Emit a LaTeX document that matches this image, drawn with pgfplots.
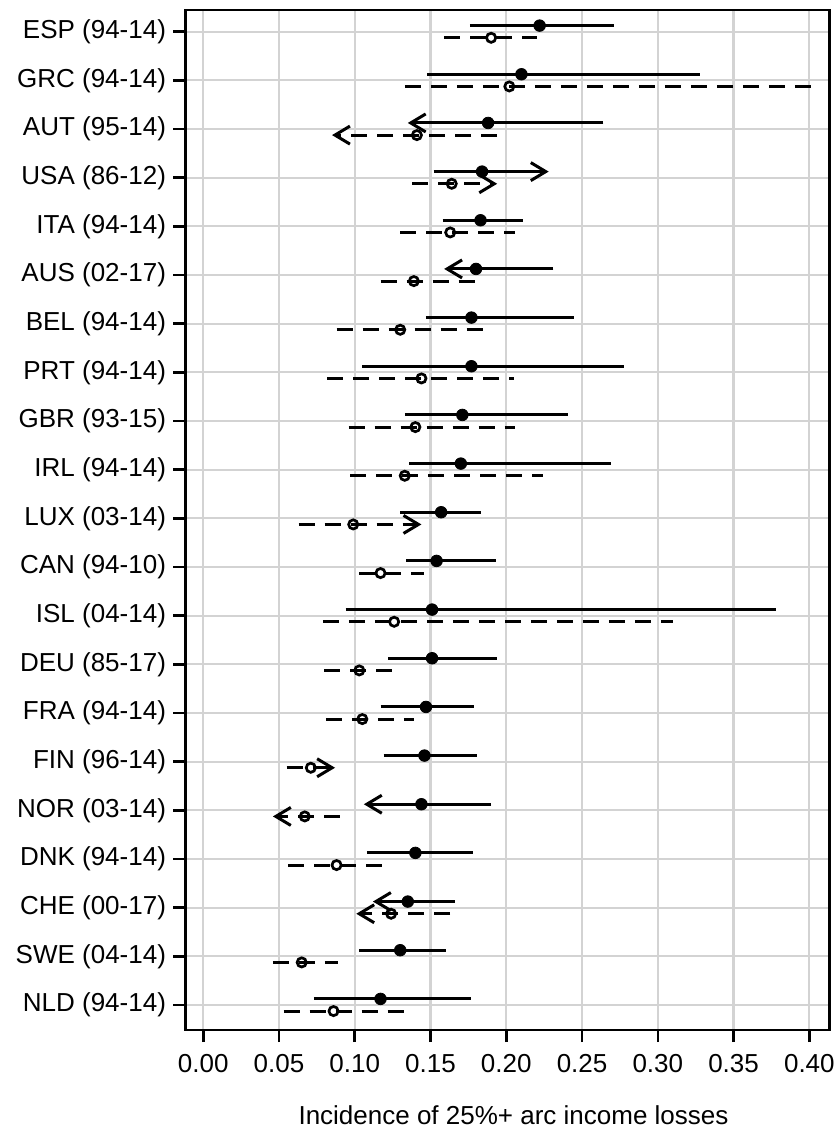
\documentclass[border=0pt]{standalone}
\usepackage{pgfplots}
\pgfplotsset{compat=1.18}
\usepackage{fontspec}
\setmainfont{Liberation Sans}
\usetikzlibrary{arrows.meta}
\definecolor{gridc}{RGB}{211,211,211}
\newcommand\fs{\fontsize{26bp}{31bp}\selectfont}
\begin{document}
\begin{tikzpicture}
\begin{axis}[
  at={(0,0)}, anchor=south west,
  scale only axis, width=644bp, height=1020bp,
  xmin=-0.0117, xmax=0.4133, ymin=0.486, ymax=21.446,
  xtick={0,0.05,0.10,0.15,0.20,0.25,0.30,0.35,0.40},
  xticklabels={0.00,0.05,0.10,0.15,0.20,0.25,0.30,0.35,0.40},
  ytick={1,2,3,4,5,6,7,8,9,10,11,12,13,14,15,16,17,18,19,20,21},
  yticklabels={NLD (94-14),SWE (04-14),CHE (00-17),DNK (94-14),NOR (03-14),FIN (96-14),FRA (94-14),DEU (85-17),ISL (04-14),CAN (94-10),LUX (03-14),IRL (94-14),GBR (93-15),PRT (94-14),BEL (94-14),AUS (02-17),ITA (94-14),USA (86-12),AUT (95-14),GRC (94-14),ESP (94-14)},
  xmajorgrids, ymajorgrids,
  major grid style={gridc, line width=2.2bp},
  axis line style={black, line width=2.6bp},
  tick align=outside, major tick length=12bp,
  major tick style={black, line width=2.6bp},
  xtick pos=left, ytick pos=left,
  ticklabel style={font=\fs},
  yticklabel style={xshift=-4bp},
  xticklabel style={yshift=-9bp},
  xlabel={Incidence of 25\%+ arc income losses},
  xlabel style={font=\fs, at={(axis description cs:0.5,0)}, anchor=base, yshift=-94bp, xshift=6bp},
  segS/.style={black, line width=3bp},
  segD/.style={black, line width=3bp, dash pattern=on 16bp off 10bp},
  arr/.style={-{Straight Barb[length=15bp,width=18bp]}},
]
% ---- solid ranges (y = row + 0.125)
\addplot[segS] coordinates {(0.176,21.125) (0.271,21.125)};
\addplot[segS] coordinates {(0.148,20.125) (0.328,20.125)};
\addplot[segS,arr] coordinates {(0.264,19.125) (0.135,19.125)};
\addplot[segS,arr] coordinates {(0.152,18.125) (0.228,18.125)};
\addplot[segS] coordinates {(0.158,17.125) (0.211,17.125)};
\addplot[segS,arr] coordinates {(0.231,16.125) (0.159,16.125)};
\addplot[segS] coordinates {(0.147,15.125) (0.245,15.125)};
\addplot[segS] coordinates {(0.105,14.125) (0.278,14.125)};
\addplot[segS] coordinates {(0.133,13.125) (0.241,13.125)};
\addplot[segS] coordinates {(0.136,12.125) (0.269,12.125)};
\addplot[segS] coordinates {(0.130,11.125) (0.183,11.125)};
\addplot[segS] coordinates {(0.134,10.125) (0.193,10.125)};
\addplot[segS] coordinates {(0.094,9.125) (0.378,9.125)};
\addplot[segS] coordinates {(0.122,8.125) (0.194,8.125)};
\addplot[segS] coordinates {(0.117,7.125) (0.179,7.125)};
\addplot[segS] coordinates {(0.119,6.125) (0.181,6.125)};
\addplot[segS,arr] coordinates {(0.190,5.125) (0.106,5.125)};
\addplot[segS] coordinates {(0.108,4.125) (0.178,4.125)};
\addplot[segS,arr] coordinates {(0.166,3.125) (0.112,3.125)};
\addplot[segS] coordinates {(0.103,2.125) (0.160,2.125)};
\addplot[segS] coordinates {(0.073,1.125) (0.177,1.125)};
% ---- dashed ranges (y = row - 0.125)
\addplot[segD] coordinates {(0.159,20.875) (0.220,20.875)};
\addplot[segD] coordinates {(0.133,19.875) (0.401,19.875)};
\addplot[segD,arr] coordinates {(0.194,18.875) (0.085,18.875)};
\addplot[segD,arr] coordinates {(0.138,17.875) (0.194,17.875)};
\addplot[segD] coordinates {(0.130,16.875) (0.206,16.875)};
\addplot[segD] coordinates {(0.117,15.875) (0.180,15.875)};
\addplot[segD] coordinates {(0.088,14.875) (0.186,14.875)};
\addplot[segD] coordinates {(0.082,13.875) (0.205,13.875)};
\addplot[segD] coordinates {(0.096,12.875) (0.206,12.875)};
\addplot[segD] coordinates {(0.097,11.875) (0.224,11.875)};
\addplot[segD,arr] coordinates {(0.063,10.875) (0.144,10.875)};
\addplot[segD] coordinates {(0.103,9.875) (0.146,9.875)};
\addplot[segD] coordinates {(0.079,8.875) (0.310,8.875)};
\addplot[segD] coordinates {(0.080,7.875) (0.126,7.875)};
\addplot[segD] coordinates {(0.081,6.875) (0.139,6.875)};
\addplot[segD,arr] coordinates {(0.055,5.875) (0.087,5.875)};
\addplot[segD,arr] coordinates {(0.090,4.875) (0.046,4.875)};
\addplot[segD] coordinates {(0.056,3.875) (0.119,3.875)};
\addplot[segD,arr] coordinates {(0.163,2.875) (0.101,2.875)};
\addplot[segD] coordinates {(0.046,1.875) (0.089,1.875)};
\addplot[segD] coordinates {(0.053,0.875) (0.133,0.875)};
% ---- points
\addplot[only marks, mark=*, mark size=5.8bp, mark options={fill=black, draw=black, line width=0.8bp}] coordinates {
(0.222,21.125) (0.210,20.125) (0.188,19.125) (0.184,18.125) (0.183,17.125)
(0.180,16.125) (0.177,15.125) (0.177,14.125) (0.171,13.125) (0.170,12.125)
(0.157,11.125) (0.154,10.125) (0.151,9.125) (0.151,8.125) (0.147,7.125)
(0.146,6.125) (0.144,5.125) (0.140,4.125) (0.135,3.125) (0.130,2.125) (0.117,1.125)};
\addplot[only marks, mark=o, mark size=4.6bp, mark options={fill=white, draw=black, line width=2.7bp}] coordinates {
(0.190,20.875) (0.202,19.875) (0.141,18.875) (0.164,17.875) (0.163,16.875)
(0.139,15.875) (0.130,14.875) (0.144,13.875) (0.140,12.875) (0.133,11.875)
(0.099,10.875) (0.117,9.875) (0.126,8.875) (0.103,7.875) (0.105,6.875)
(0.071,5.875) (0.067,4.875) (0.088,3.875) (0.124,2.875) (0.065,1.875) (0.086,0.875)};
\end{axis}
\pgfresetboundingbox
\path[use as bounding box] (-185.5bp,-101bp) rectangle (652.5bp,1030bp);
\end{tikzpicture}
\end{document}
